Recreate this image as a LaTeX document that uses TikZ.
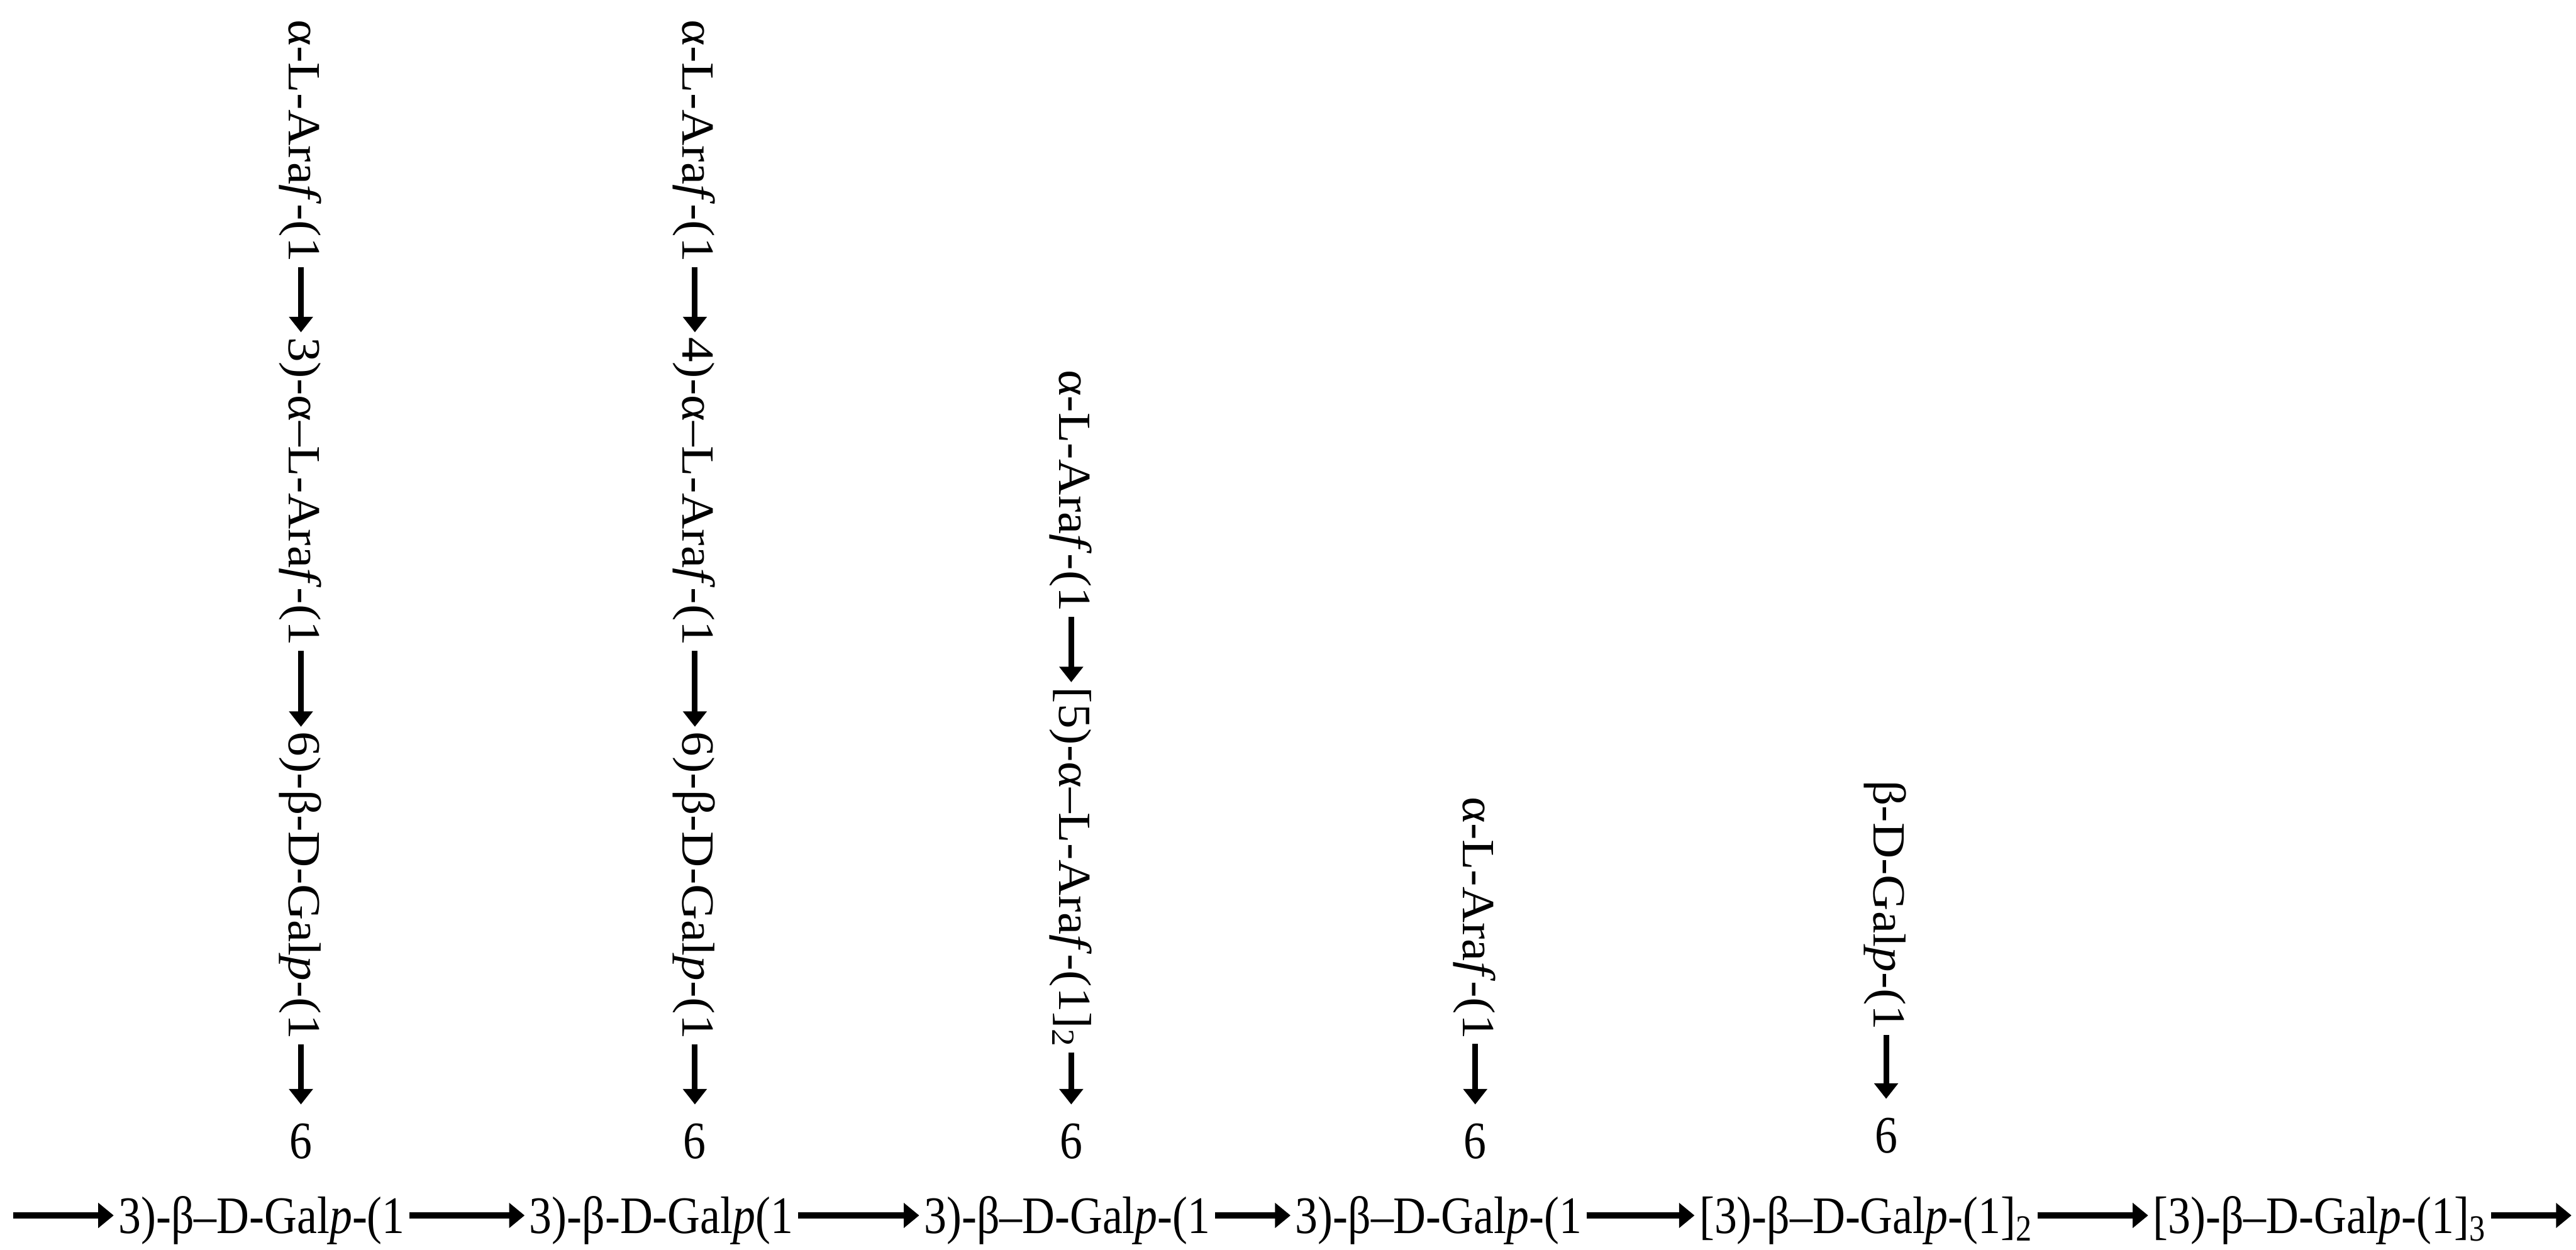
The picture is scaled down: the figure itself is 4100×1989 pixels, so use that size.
\documentclass[tikz,border=0pt]{standalone}
\usepackage{graphicx}
\usepackage{fontspec}
\setmainfont{Liberation Serif}
\usetikzlibrary{arrows.meta}
\newcommand\hsx[1]{\scalebox{0.96}[1.12]{#1}}
\newcommand\vsx[1]{\scalebox{1.06}[0.98]{#1}}
\begin{document}
\begin{tikzpicture}[x=0.1mm,y=-0.1mm,
  hlnk/.style={line width=3.1pt,-{Triangle[width=11pt,length=7pt]}},
  vlnk/.style={line width=2.6pt,-{Triangle[width=10.5pt,length=7pt]}},
  txt/.style={font=\fontsize{21.3}{25}\selectfont, inner xsep=2pt, inner ysep=0pt, text height=19.2pt, text depth=3.2pt},
  hl/.style={txt, anchor=base west},
  vl/.style={txt, rotate=-90, anchor=west, text height=15pt, text depth=4pt},
  six/.style={txt, anchor=base}]
\useasboundingbox (0,0) rectangle (4100,1989);
% main chain
\node[hl] (n1) at (181,1963) {\hsx{3)-β–D-Gal\textit{p}-(1}};
\node[hl] (n2) at (835,1963) {\hsx{3)-β-D-Gal\textit{p}(1}};
\node[hl] (n3) at (1463,1963) {\hsx{3)-β–D-Gal\textit{p}-(1}};
\node[hl] (n4) at (2054,1963) {\hsx{3)-β–D-Gal\textit{p}-(1}};
\node[hl] (n5) at (2697,1963) {\hsx{[3)-β–D-Gal\textit{p}-(1]\textsubscript{2}}};
\node[hl] (n6) at (3419,1963) {\hsx{[3)-β–D-Gal\textit{p}-(1]\textsubscript{3}}};
\path (n1.west) ++(-160,0) coordinate (s0);
\path (n6.east) ++(128,0) coordinate (e0);
\draw[hlnk] (s0) -- (n1.west);
\draw[hlnk] (n1.east) -- (n2.west);
\draw[hlnk] (n2.east) -- (n3.west);
\draw[hlnk] (n3.east) -- (n4.west);
\draw[hlnk] (n4.east) -- (n5.west);
\draw[hlnk] (n5.east) -- (n6.west);
\draw[hlnk] (n6.east) -- (e0);
% sixes
\node[six] (s1) at (479,1844) {\hsx{6}};
\node[six] (s2) at (1106,1844) {\hsx{6}};
\node[six] (s3) at (1705,1844) {\hsx{6}};
\node[six] (s4) at (2348,1844) {\hsx{6}};
\node[six] (s5) at (3002,1835) {\hsx{6}};
% column 1
\node[vl] (a1) at (479,24) {\vsx{α-L-Ara\textit{f}-(1}};
\node[vl] (b1) at (479,529) {\vsx{3)-α–L-Ara\textit{f}-(1}};
\node[vl] (c1) at (479,1157) {\vsx{6)-β-D-Gal\textit{p}-(1}};
\draw[vlnk] (a1.east) -- (b1.west);
\draw[vlnk] (b1.east) -- (c1.west);
\draw[vlnk, shorten >=5pt] (c1.east) -- (s1.north);
% column 2
\node[vl] (a2) at (1106,24) {\vsx{α-L-Ara\textit{f}-(1}};
\node[vl] (b2) at (1106,529) {\vsx{4)-α–L-Ara\textit{f}-(1}};
\node[vl] (c2) at (1106,1157) {\vsx{6)-β-D-Gal\textit{p}-(1}};
\draw[vlnk] (a2.east) -- (b2.west);
\draw[vlnk] (b2.east) -- (c2.west);
\draw[vlnk, shorten >=5pt] (c2.east) -- (s2.north);
% column 3
\node[vl] (a3) at (1705,581) {\vsx{α-L-Ara\textit{f}-(1}};
\node[vl] (b3) at (1705,1086) {\vsx{[5)-α–L-Ara\textit{f}-(1]\textsubscript{2}}};
\draw[vlnk] (a3.east) -- (b3.west);
\draw[vlnk, shorten >=5pt] (b3.east) -- (s3.north);
% column 4
\node[vl] (a4) at (2348,1261) {\vsx{α-L-Ara\textit{f}-(1}};
\draw[vlnk, shorten >=5pt] (a4.east) -- (s4.north);
% column 5
\node[vl] (a5) at (3002,1235) {\vsx{β-D-Gal\textit{p}-(1}};
\draw[vlnk, shorten >=5pt] (a5.east) -- (s5.north);
\end{tikzpicture}
\end{document}
